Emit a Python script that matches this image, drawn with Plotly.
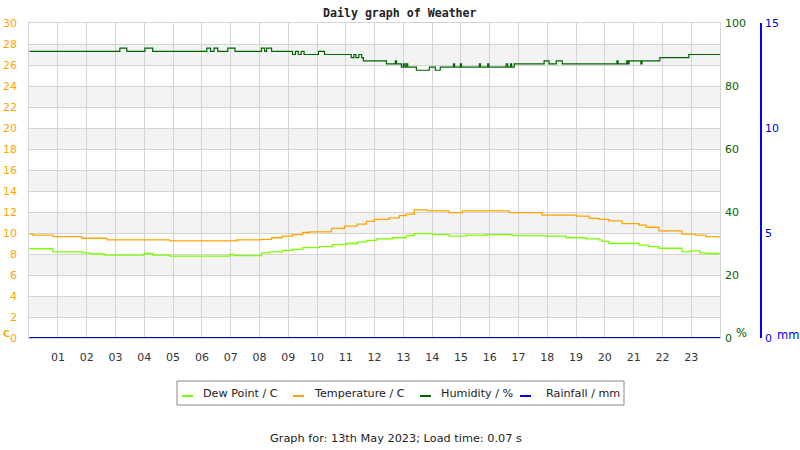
import plotly.graph_objects as go

# ---------------- data (hours of day, values) ----------------
temp_hours = [0.0, 0.13, 0.83, 1.83, 2.70, 4.88, 7.21, 8.07, 8.42, 8.80, 9.15, 9.50, 9.74,
              10.50, 10.95, 11.40, 11.72, 11.99, 12.51, 12.86, 13.10, 13.38, 13.83, 14.59,
              15.05, 15.64, 16.68, 17.82, 19.00, 19.45, 19.80, 20.14, 20.60, 21.19, 21.43,
              21.88, 22.68, 23.16, 23.51, 23.96]
temp_values = [9.9, 9.8, 9.65, 9.5, 9.35, 9.25, 9.35, 9.4, 9.55, 9.7, 9.85, 10.05, 10.1,
               10.45, 10.65, 10.85, 11.1, 11.3, 11.45, 11.65, 11.8, 12.2, 12.1, 11.95,
               12.1, 12.1, 11.95, 11.7, 11.6, 11.4, 11.3, 11.15, 10.9, 10.75, 10.55,
               10.2, 9.9, 9.8, 9.65, 9.55]

dew_hours = [0.0, 0.83, 1.83, 2.11, 2.63, 3.99, 4.29, 4.88, 6.96, 7.10, 8.07, 8.35, 8.80,
             9.15, 9.50, 10.08, 10.54, 11.02, 11.40, 11.72, 12.06, 12.62, 13.10, 13.38,
             14.01, 14.59, 15.19, 15.88, 16.78, 17.96, 18.65, 19.35, 19.80, 19.90, 20.14,
             21.19, 21.53, 21.88, 22.68, 22.95, 23.30, 23.51, 23.96]
dew_values = [8.5, 8.2, 8.1, 8.0, 7.9, 8.05, 7.9, 7.8, 7.95, 7.85, 8.1, 8.2, 8.35,
              8.45, 8.6, 8.7, 8.9, 9.0, 9.15, 9.3, 9.45, 9.55, 9.75, 9.95,
              9.85, 9.7, 9.8, 9.85, 9.75, 9.7, 9.55, 9.45, 9.35, 9.2, 9.0,
              8.85, 8.7, 8.55, 8.2, 8.3, 8.1, 8.05, 7.95]

hum_hours = [0.0, 3.15, 3.39, 4.02, 4.29, 6.17, 6.30, 6.42, 6.55, 6.90, 7.15, 8.07, 8.18,
             8.25, 8.42, 9.15, 9.25, 9.35, 9.45, 9.55, 10.05, 10.26, 11.19, 11.28, 11.35,
             11.45, 11.55, 11.61, 12.41, 12.72, 12.76, 12.93, 13.00, 13.05, 13.10, 13.15,
             13.45, 13.90, 14.11, 14.28, 14.74, 14.78, 14.98, 15.02, 15.64, 15.68, 15.93,
             15.97, 16.57, 16.62, 16.72, 16.76, 16.85, 17.89, 18.06, 18.31, 18.52, 20.42,
             20.46, 20.76, 20.80, 20.84, 21.25, 21.29, 21.91, 22.92, 24.0]
hum_values = [91, 92, 91, 92, 91, 92, 91, 92, 91, 92, 91, 92, 91,
              92, 91, 90, 91, 90, 91, 90, 91, 90, 89, 90, 89,
              90, 89, 88, 87, 88, 87, 86, 87, 86, 87, 86,
              85, 86, 85, 86, 87, 86, 87, 86, 87, 86, 87,
              86, 87, 86, 87, 86, 87, 88, 87, 88, 87, 88,
              87, 88, 87, 88, 87, 88, 89, 90, 90]

rain_hours = [0.0, 24.0]
rain_values = [0.0, 0.0]

hour_ticks = list(range(1, 24))
hour_labels = ["%02d" % h for h in hour_ticks]

series_names = ["Dew Point / C", "Temperature / C", "Humidity / %", "Rainfall / mm"]
series_colors = ["#7CFC00", "#FFA500", "#006400", "#0000E0"]

W, H = 800, 450
X0, X1, YT, YB = 29.2, 720, 23, 338


def px(x):
    return x / W


def py(y):
    return 1 - y / H


fig = go.Figure()
fig.add_trace(go.Scatter(x=dew_hours, y=dew_values, mode="lines", line_shape="hv",
                         line=dict(color=series_colors[0], width=1.3), name=series_names[0]))
fig.add_trace(go.Scatter(x=temp_hours, y=temp_values, mode="lines", line_shape="hv",
                         line=dict(color=series_colors[1], width=1.3), name=series_names[1]))
fig.add_trace(go.Scatter(x=hum_hours, y=hum_values, mode="lines", line_shape="hv",
                         line=dict(color=series_colors[2], width=1.2), name=series_names[2],
                         yaxis="y2"))
fig.add_trace(go.Scatter(x=rain_hours, y=rain_values, mode="lines",
                         line=dict(color="#0000B8", width=2), name=series_names[3],
                         yaxis="y3", cliponaxis=False))

shapes = []
for lo in range(2, 30, 4):
    shapes.append(dict(type="rect", xref="x domain", yref="y", x0=0, x1=1, y0=lo, y1=lo + 2,
                       fillcolor="#F3F3F3", line=dict(width=0), layer="below"))

# manual legend
lx0, lx1, ly0, ly1 = 177, 624, 381, 405
shapes.append(dict(type="rect", xref="paper", yref="paper", x0=px(lx0), x1=px(lx1),
                   y0=py(ly1), y1=py(ly0), line=dict(color="#888888", width=1)))
leg_line_x = [182, 293, 420, 520]
leg_text_x = [201, 312, 439, 544]
annotations = []
ly = 393
for i in range(4):
    shapes.append(dict(type="line", xref="paper", yref="paper", x0=px(leg_line_x[i]),
                       x1=px(leg_line_x[i] + 11), y0=py(ly + 3), y1=py(ly + 3),
                       line=dict(color=series_colors[i], width=2)))
    annotations.append(dict(xref="paper", yref="paper", x=px(leg_text_x[i]), y=py(ly),
                            text=series_names[i], showarrow=False, xanchor="left",
                            yanchor="middle", font=dict(size=11.2, color="#222222")))

annotations += [
    dict(xref="paper", yref="paper", x=px(400), y=py(13), text="<b>Daily graph of Weather</b>",
         showarrow=False, xanchor="center", yanchor="middle",
         font=dict(family="DejaVu Sans Mono", size=11.6, color="#222222")),
    dict(xref="paper", yref="paper", x=px(396), y=py(438),
         text="Graph for: 13th May 2023; Load time: 0.07 s", showarrow=False,
         xanchor="center", yanchor="middle", font=dict(size=11.3, color="#222222")),
    dict(xref="paper", yref="paper", x=px(1), y=py(333), text="<b>C</b>", showarrow=False,
         xanchor="left", yanchor="middle", font=dict(size=9.5, color="#FFA500")),
    dict(xref="paper", yref="paper", x=px(734), y=py(333), text="%", showarrow=False,
         xanchor="left", yanchor="middle", font=dict(size=11.5, color="#006400")),
    dict(xref="paper", yref="paper", x=px(775), y=py(335), text="mm", showarrow=False,
         xanchor="left", yanchor="middle", font=dict(size=11.5, color="#0000DD")),
]

fig.update_layout(
    width=W, height=H, margin=dict(l=0, r=0, t=0, b=0, pad=0, autoexpand=False),
    paper_bgcolor="white", plot_bgcolor="white", showlegend=False,
    font=dict(family="DejaVu Sans", size=11, color="#333333"),
    shapes=shapes, annotations=annotations,
    xaxis=dict(domain=[px(X0), px(X1)], range=[0, 24], tickvals=hour_ticks,
               ticktext=hour_labels, showgrid=True, gridcolor="#D4D4D4", gridwidth=1,
               zeroline=False, showline=True, linecolor="#D4D4D4", mirror=True,
               layer="below traces", automargin=False, ticks="", ticklabelstandoff=9,
               tickfont=dict(size=11, color="#333333")),
    yaxis=dict(domain=[py(YB), py(YT)], range=[0, 30], dtick=2, showgrid=True,
               gridcolor="#D4D4D4", zeroline=False, showline=True, linecolor="#D4D4D4",
               mirror=True, layer="below traces", automargin=False, ticks="",
               ticklabelstandoff=9, tickfont=dict(size=11, color="#FFA500")),
    yaxis2=dict(overlaying="y", side="right", anchor="x", range=[0, 100],
                tickvals=[0, 20, 40, 60, 80, 100], showgrid=False, zeroline=False,
                showline=False, automargin=False, ticks="", ticklabelstandoff=4,
                tickfont=dict(size=11, color="#006400")),
    yaxis3=dict(overlaying="y", side="right", anchor="free", position=px(761),
                range=[0, 15], tickvals=[0, 5, 10, 15], showgrid=False, zeroline=False,
                showline=True, linecolor="#0000FF", linewidth=1.5, automargin=False,
                ticks="", ticklabelstandoff=1, tickfont=dict(size=11, color="#0000DD")),
)

fig.write_html("out.html")
